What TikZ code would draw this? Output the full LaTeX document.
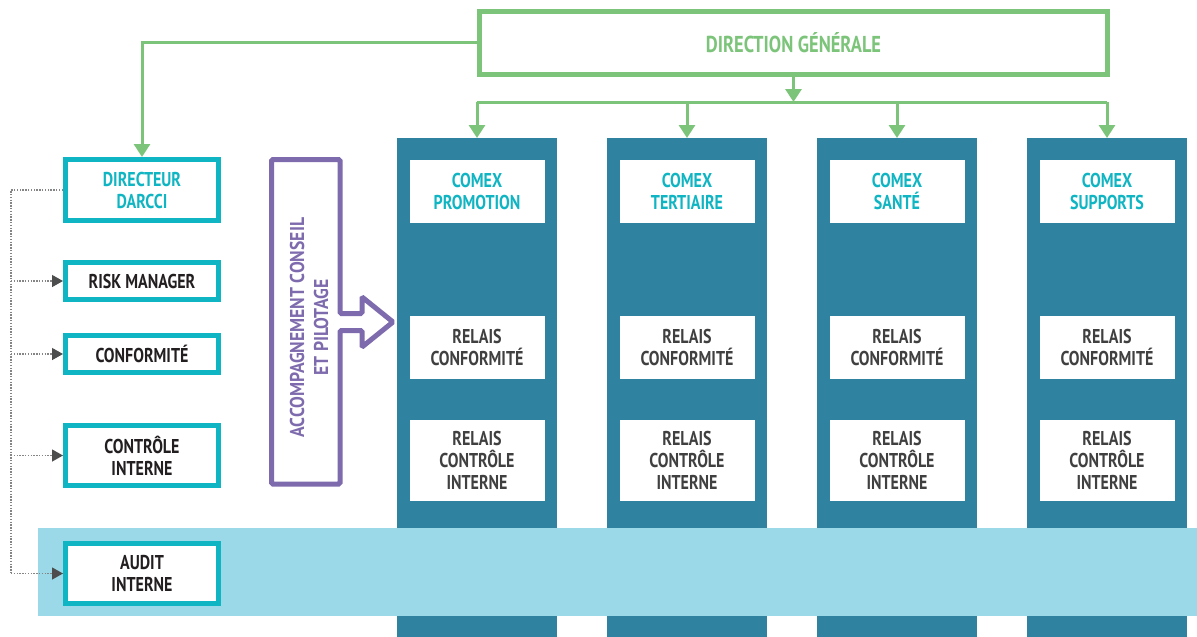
\documentclass[tikz,border=0pt]{standalone}
\usepackage{fontspec}
\setmainfont{PT Sans}[FakeStretch=0.80]
\usetikzlibrary{arrows.meta}

\definecolor{dggreen}{HTML}{7CC47A}
\definecolor{tealb}{HTML}{0FB5C2}
\definecolor{colblue}{HTML}{2F82A0}
\definecolor{bandc}{HTML}{9BD9E9}
\definecolor{purp}{HTML}{7E6BAD}
\definecolor{inkdark}{HTML}{231F20}
\definecolor{inkgray}{HTML}{404040}
\definecolor{dotgray}{HTML}{858585}
\definecolor{tipgray}{HTML}{4D4D4D}

\newcommand\lbl{\bfseries\fontsize{20}{22}\selectfont}

\begin{document}
\begin{tikzpicture}[x=1pt,y=-1pt,
  leftbox/.style={draw=tealb, line width=5pt, fill=white, minimum width=153pt,
    inner sep=0pt, align=center, text=inkdark, font=\lbl},
  colbox/.style={fill=colblue, minimum width=160pt, minimum height=499pt,
    inner sep=0pt, anchor=north},
  whitebox/.style={fill=white, minimum width=135pt, inner sep=0pt,
    align=center, font=\lbl, text=inkgray},
  comexbox/.style={whitebox, minimum height=63pt, text=tealb},
  relaisbox/.style={whitebox, minimum height=63pt},
  relaistall/.style={whitebox, minimum height=81pt},
  greenlink/.style={draw=dggreen, line width=3pt},
  greenarrow/.style={greenlink, -{Triangle[width=16pt,length=13pt]}},
  dotlink/.style={draw=dotgray, line width=1.3pt, dash pattern=on 1.4pt off 1.4pt},
  dotarrow/.style={dotlink, -{Triangle[width=12pt,length=11pt,color=tipgray]}}
]
\useasboundingbox (0,0) rectangle (1197,637);

% business-line columns
\foreach \i/\x in {1/477,2/687,3/897,4/1107}
  \node[colbox] (col\i) at (\x,138) {};

% light band across the bottom
\node[fill=bandc, minimum width=1159pt, minimum height=88pt, inner sep=0pt,
  anchor=north west] (band) at (38,528) {};

% boxes inside the columns
\foreach \i/\x/\name in {1/477/PROMOTION,2/687/TERTIAIRE,3/897/SANTÉ,4/1107/SUPPORTS}{
  \node[comexbox] (comex\i) at (\x,191.5) {COMEX\\\name};
  \node[relaisbox] (rconf\i) at (\x,347.5) {RELAIS\\CONFORMITÉ};
  \node[relaistall] (rctrl\i) at (\x,460.5) {RELAIS\\CONTRÔLE\\INTERNE};
}

% top management
\node[draw=dggreen, line width=5pt, fill=white, minimum width=628pt,
  minimum height=63pt, inner sep=0pt, text=dggreen,
  font=\bfseries\fontsize{23}{24}\selectfont] (dg) at (793.5,43) {DIRECTION GÉNÉRALE};

% left-hand functions
\node[leftbox, minimum height=61pt, text=tealb] (dir) at (142,190) {DIRECTEUR\\DARCCI};
\node[leftbox, minimum height=37pt] (risk) at (142,281) {RISK MANAGER};
\node[leftbox, minimum height=37pt] (conf) at (142,354) {CONFORMITÉ};
\node[leftbox, minimum height=60pt] (ctrl) at (142,455.5) {CONTRÔLE\\INTERNE};
\node[leftbox, minimum height=60pt] (audit) at (142,573.5) {AUDIT\\INTERNE};

% green hierarchy links
\draw[greenarrow] (dg.west |- 0,42) -| (dir.north);
\coordinate (bus) at (793.5,102);
\draw[greenarrow] (dg.south) -- (bus);
\draw[greenlink] (col1.north |- bus) -- (col4.north |- bus);
\foreach \i in {1,...,4}
  \draw[greenarrow] (col\i.north |- bus) -- (col\i.north);

% dotted reporting lines
\coordinate (rail) at (11,190);
\draw[dotlink] (dir.west) -- (rail) -- (rail |- audit.west);
\foreach \b in {risk,conf,ctrl,audit}
  \draw[dotarrow] (rail |- \b.west) -- (\b.west);

% support and steering arrow
\draw[purp, line width=5pt, rounded corners=1.5pt]
  (271.5,159.5) -- (340,159.5) -- (340,313.5) -- (362,313.5) -- (362,297)
  -- (393,322) -- (362,347) -- (362,330.5) -- (340,330.5) -- (340,484)
  -- (271.5,484) -- cycle;
\node[rotate=90, xscale=1.1, align=center, text=purp,
  font=\bfseries\fontsize{20}{24}\selectfont]
  (accomp) at (309,327.5) {ACCOMPAGNEMENT CONSEIL\\ET PILOTAGE};
\end{tikzpicture}
\end{document}
